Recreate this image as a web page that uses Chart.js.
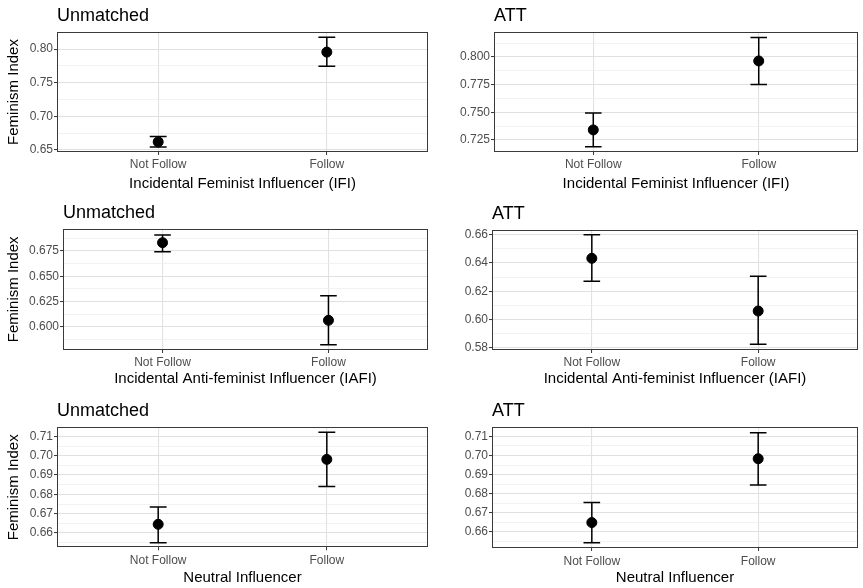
<!DOCTYPE html>
<html>
<head>
<meta charset="utf-8">
<script src="https://cdn.jsdelivr.net/npm/chart.js@4.4.1/dist/chart.umd.min.js"></script>
<style>
  html, body { margin: 0; padding: 0; background: #fff; }
  #wrap { position: relative; width: 863px; height: 588px; }
  .panel { position: absolute; }
</style>
</head>
<body>
<div id="wrap"></div>
<script>
// ---- data ----
const categories = ['Not Follow', 'Follow'];
const panelTitles = ['Unmatched', 'ATT', 'Unmatched', 'ATT', 'Unmatched', 'ATT'];
const xAxisTitles = [
    'Incidental Feminist Influencer (IFI)',
    'Incidental Feminist Influencer (IFI)',
    'Incidental Anti-feminist Influencer (IAFI)',
    'Incidental Anti-feminist Influencer (IAFI)',
    'Neutral Influencer',
    'Neutral Influencer'
];
const yAxisTitle = 'Feminism Index';

const meanValues  = [[0.662, 0.7955], [0.734, 0.7964], [0.6832, 0.6066], [0.6433, 0.6061], [0.6645, 0.6981], [0.6649, 0.6983]];
const lowerValues = [[0.6545, 0.7746], [0.7187, 0.775], [0.6743, 0.5824], [0.6271, 0.5826], [0.655, 0.684], [0.6544, 0.6845]];
const upperValues = [[0.670, 0.8175], [0.7494, 0.8176], [0.6909, 0.6309], [0.660, 0.6306], [0.6734, 0.7121], [0.6754, 0.7119]];

const yMins = [0.647, 0.714, 0.5773, 0.5786, 0.6526, 0.6516];
const yMaxs = [0.8254, 0.8226, 0.697, 0.6635, 0.7147, 0.7149];

const yTickValues = [
    [0.65, 0.70, 0.75, 0.80],
    [0.725, 0.750, 0.775, 0.800],
    [0.600, 0.625, 0.650, 0.675],
    [0.58, 0.60, 0.62, 0.64, 0.66],
    [0.66, 0.67, 0.68, 0.69, 0.70, 0.71],
    [0.66, 0.67, 0.68, 0.69, 0.70, 0.71]
];
const yTickLabels = [
    ['0.65', '0.70', '0.75', '0.80'],
    ['0.725', '0.750', '0.775', '0.800'],
    ['0.600', '0.625', '0.650', '0.675'],
    ['0.58', '0.60', '0.62', '0.64', '0.66'],
    ['0.66', '0.67', '0.68', '0.69', '0.70', '0.71'],
    ['0.66', '0.67', '0.68', '0.69', '0.70', '0.71']
];

// ---- layout (pixels) ----
const panelBoxes = [
    { x: 0,   y: 0,   w: 431, h: 195, left: 57, top: 32,   right: 428, bottom: 152,   titleTop: 5.0, xTitleBottom: 2.4, xTickPad: 2.8 },
    { x: 431, y: 0,   w: 432, h: 195, left: 63, top: 32,   right: 427, bottom: 152,   titleTop: 5.6, xTitleBottom: 2.4, xTickPad: 2.8 },
    { x: 0,   y: 195, w: 431, h: 195, left: 63, top: 33.7, right: 428, bottom: 155,   titleTop: 7.0, xTitleBottom: 1.8, xTickPad: 2.4 },
    { x: 431, y: 195, w: 432, h: 195, left: 61, top: 34.7, right: 427, bottom: 155,   titleTop: 8.4, xTitleBottom: 2.4, xTickPad: 2.4 },
    { x: 0,   y: 390, w: 431, h: 198, left: 57, top: 37.3, right: 428, bottom: 157.3, titleTop: 10.2, xTitleBottom: 1.4, xTickPad: 3.2 },
    { x: 431, y: 390, w: 432, h: 198, left: 61, top: 37,   right: 427, bottom: 158,   titleTop: 10.2, xTitleBottom: 1.4, xTickPad: 3.0 }
];

const FONT = '"Liberation Sans", Arial, Helvetica, sans-serif';
Chart.defaults.font.family = FONT;

const errorBarPlugin = {
    id: 'errorBars',
    beforeDatasetsDraw(chart, args, opts) {
        const { ctx, scales: { x, y } } = chart;
        ctx.save();
        ctx.strokeStyle = '#000';
        ctx.lineWidth = 1.5;
        opts.lower.forEach((lo, i) => {
            const pos = i + 1;
            const cx = x.getPixelForValue(pos);
            const x0 = x.getPixelForValue(pos - opts.capHalf);
            const x1 = x.getPixelForValue(pos + opts.capHalf);
            const yLo = y.getPixelForValue(lo);
            const yHi = y.getPixelForValue(opts.upper[i]);
            ctx.beginPath();
            ctx.moveTo(cx, yLo); ctx.lineTo(cx, yHi);
            ctx.moveTo(x0, yHi); ctx.lineTo(x1, yHi);
            ctx.moveTo(x0, yLo); ctx.lineTo(x1, yLo);
            ctx.stroke();
        });
        ctx.restore();
    },
    afterDatasetsDraw(chart) {
        // panel border like theme_bw
        const { ctx, chartArea: a } = chart;
        ctx.save();
        ctx.strokeStyle = '#3a3a3a';
        ctx.lineWidth = 1;
        ctx.strokeRect(Math.round(a.left) + 0.5, Math.round(a.top) + 0.5,
            Math.round(a.right - a.left) - 1, Math.round(a.bottom - a.top) - 1);
        ctx.restore();
    }
};

function makePanel(i) {
    const box = panelBoxes[i];
    const holder = document.createElement('div');
    holder.className = 'panel';
    holder.style.left = box.x + 'px';
    holder.style.top = box.y + 'px';
    holder.style.width = box.w + 'px';
    holder.style.height = box.h + 'px';
    const canvas = document.createElement('canvas');
    canvas.width = box.w;
    canvas.height = box.h;
    holder.appendChild(canvas);
    document.getElementById('wrap').appendChild(holder);

    // major ticks plus ggplot-style minor breaks halfway between
    const majors = yTickValues[i];
    const step = majors[1] - majors[0];
    const allTicks = [];
    const firstMinor = majors[0] - step / 2;
    if (firstMinor >= yMins[i]) allTicks.push({ value: firstMinor, minor: true });
    majors.forEach((v, k) => {
        allTicks.push({ value: v, minor: false, label: yTickLabels[i][k] });
        const m = v + step / 2;
        if (m <= yMaxs[i]) allTicks.push({ value: m, minor: true });
    });

    const isLeft = i % 2 === 0;

    new Chart(canvas.getContext('2d'), {
        type: 'scatter',
        data: {
            datasets: [{
                data: meanValues[i].map((m, k) => ({ x: k + 1, y: m })),
                backgroundColor: '#000',
                borderColor: '#000',
                pointRadius: 5,
                pointHoverRadius: 5
            }]
        },
        options: {
            responsive: false,
            animation: false,
            layout: {
                autoPadding: false,
                padding: { left: 0, top: 0, right: box.w - box.right, bottom: 0 }
            },
            plugins: {
                legend: { display: false },
                tooltip: { enabled: false },
                title: {
                    display: true,
                    text: panelTitles[i],
                    align: 'start',
                    fullSize: false,
                    color: '#000',
                    font: { size: 18, weight: 'normal' },
                    padding: { top: box.titleTop, bottom: box.top - box.titleTop - 21.6 }
                },
                errorBars: {
                    lower: lowerValues[i],
                    upper: upperValues[i],
                    capHalf: 0.05
                }
            },
            scales: {
                x: {
                    type: 'linear',
                    min: 0.4,
                    max: 2.6,
                    afterBuildTicks: (scale) => {
                        scale.ticks = categories.map((c, k) => ({ value: k + 1 }));
                    },
                    afterFit: (scale) => { scale.height = box.h - box.bottom; },
                    ticks: {
                        autoSkip: false,
                        maxRotation: 0,
                        padding: box.xTickPad,
                        color: '#4d4d4d',
                        font: { size: 12 },
                        callback: (v) => categories[Math.round(v) - 1]
                    },
                    grid: {
                        color: '#e2e2e2',
                        lineWidth: 1.1,
                        tickColor: '#333',
                        tickLength: 3,
                        tickWidth: 1
                    },
                    border: { display: false },
                    title: {
                        display: true,
                        text: xAxisTitles[i],
                        color: '#000',
                        font: { size: 15 },
                        padding: { top: 0, bottom: box.xTitleBottom }
                    }
                },
                y: {
                    type: 'linear',
                    min: yMins[i],
                    max: yMaxs[i],
                    afterBuildTicks: (scale) => {
                        scale.ticks = allTicks.map(t => ({ ...t }));
                    },
                    afterFit: (scale) => { scale.width = box.left; },
                    ticks: {
                        autoSkip: false,
                        padding: 1,
                        color: '#4d4d4d',
                        font: { size: 12 },
                        callback: function (v, idx, ticks) {
                            const t = ticks[idx];
                            return t.minor ? '' : t.label;
                        }
                    },
                    grid: {
                        color: (c) => (c.tick && c.tick.minor) ? '#ececec' : '#e0e0e0',
                        lineWidth: (c) => (c.tick && c.tick.minor) ? 0.7 : 1.1,
                        tickColor: (c) => (c.tick && c.tick.minor) ? 'rgba(0,0,0,0)' : '#333',
                        tickLength: 3,
                        tickWidth: 1
                    },
                    border: { display: false },
                    title: {
                        display: isLeft,
                        text: yAxisTitle,
                        color: '#000',
                        font: { size: 15 },
                        padding: { top: 5, bottom: 0 }
                    }
                }
            }
        },
        plugins: [errorBarPlugin]
    });
}

panelTitles.forEach((t, i) => makePanel(i));
</script>
</body>
</html>
